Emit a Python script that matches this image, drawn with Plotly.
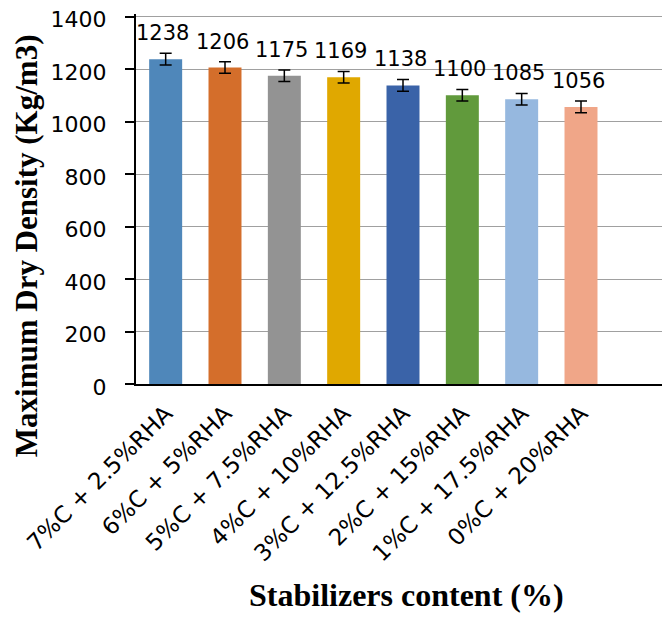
import plotly.graph_objects as go

categories = ["7%C + 2.5%RHA", "6%C + 5%RHA", "5%C + 7.5%RHA", "4%C + 10%RHA",
              "3%C + 12.5%RHA", "2%C + 15%RHA", "1%C + 17.5%RHA", "0%C + 20%RHA"]
values = [1238, 1206, 1175, 1169, 1138, 1100, 1085, 1056]
errors = [22, 22, 22, 22, 22, 22, 22, 22]
colors = ["#4F87BA", "#D46E2B", "#939393", "#E0A800", "#3A63A8", "#619A3C", "#96B8DF", "#F0A688"]
y_ticks = [0, 200, 400, 600, 800, 1000, 1200, 1400]

xpos = list(range(len(categories)))
sans = "DejaVu Sans"

fig = go.Figure()
fig.add_trace(go.Bar(
    x=xpos, y=values,
    marker=dict(color=colors, line=dict(width=0)),
    error_y=dict(type="data", array=errors, visible=True, color="black", thickness=1.5, width=6),
    width=0.556,
    showlegend=False,
))

for xi, v in zip(xpos, values):
    fig.add_annotation(x=xi, y=v, text=str(v), showarrow=False, yanchor="bottom",
                       yshift=12, xshift=-3, font=dict(family=sans, size=21, color="black"))

fig.add_annotation(xref="paper", yref="paper", x=-0.206, y=0.375, text="<b>Maximum Dry Density (Kg/m3)</b>",
                   textangle=-90, showarrow=False, xanchor="center", yanchor="middle",
                   font=dict(family="Liberation Serif", size=31, color="black"))
fig.add_annotation(xref="paper", yref="paper", x=0.506, y=-0.57, text="<b>Stabilizers content (%)</b>",
                   showarrow=False, xanchor="center", yanchor="middle",
                   font=dict(family="Liberation Serif", size=32, color="black"))

fig.update_layout(
    width=662, height=611,
    margin=dict(l=128, r=0, t=6, b=235),
    plot_bgcolor="white", paper_bgcolor="white",
    xaxis=dict(range=[-0.5, 8.5], tickmode="array", tickvals=xpos, ticktext=categories,
               tickangle=-45, showgrid=False, showline=True, linecolor="black", linewidth=2,
               ticks="", ticklabelstandoff=5, automargin=False, ticklabeloverflow="allow",
               tickfont=dict(family=sans, size=23, color="black")),
    yaxis=dict(range=[0, 1410], tickmode="array", tickvals=y_ticks,
               showgrid=True, gridcolor="#A0A0A0", gridwidth=1,
               showline=True, linecolor="black", linewidth=2,
               ticks="outside", ticklen=9, tickwidth=2, tickcolor="black",
               zeroline=False, ticklabelstandoff=14, ticklabelshift=3,
               automargin=False, ticklabeloverflow="allow",
               tickfont=dict(family=sans, size=22, color="black")),
)

fig.write_html("out.html")
